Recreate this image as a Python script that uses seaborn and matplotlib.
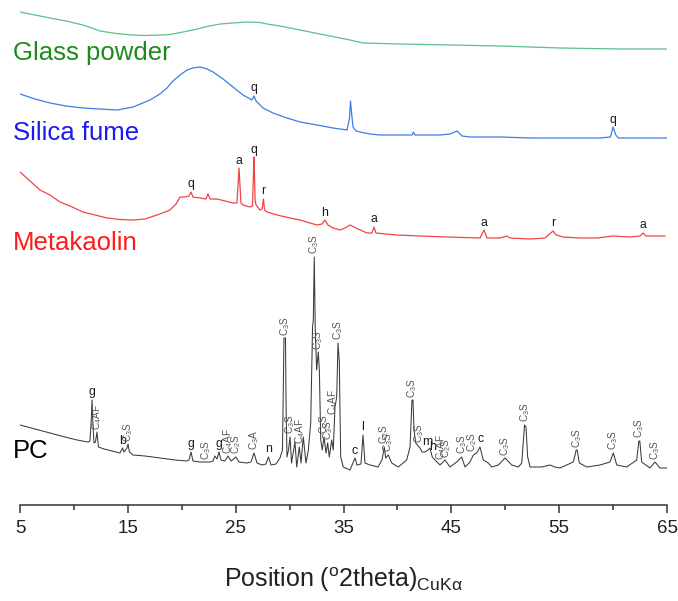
import numpy as np
import pandas as pd
import matplotlib
matplotlib.use("Agg")
import matplotlib.pyplot as plt
import seaborn as sns
from matplotlib import font_manager as fm

# ---------------- data (2theta in degrees, offset intensity in a.u.) ----------------
GP_2THETA = [5.00, 5.93, 7.78, 9.27, 10.84, 12.42, 13.90, 15.48, 16.59, 17.98, 18.91, 20.12,
             21.23, 22.34, 23.55, 24.75, 26.04, 27.26, 27.91, 29.11, 30.97, 32.82, 34.68,
             35.60, 36.81, 40.24, 44.88, 49.51, 55.08, 60.64, 65.00]
GP_INT = [493, 491, 487, 484, 480, 474, 471.5, 470, 469.5, 470, 470.5, 473,
          475.5, 478.5, 481, 482, 483, 482.5, 481, 479, 475, 471, 467,
          465, 462, 461, 460, 459, 457, 456, 456]

SF_2THETA = [5.00, 6.39, 7.78, 9.27, 10.84, 12.42, 14.00, 15.48, 17.06, 17.98,
             18.63, 19.19, 19.84, 20.49, 21.04, 21.69, 22.34, 22.90, 23.83, 24.75,
             25.68, 26.52, 26.70, 26.89, 27.54, 28.46, 29.76, 30.97, 32.54, 34.03,
             35.33, 35.56, 35.65, 35.74, 35.88, 36.16, 36.53, 37.46, 38.38, 41.35,
             41.49, 41.63, 43.95, 44.88, 45.53, 45.99, 46.73, 49.51, 52.30, 55.08,
             58.79, 59.75, 60.00, 60.25, 60.50, 62.50, 65.00]
SF_INT = [411, 406, 402, 399, 397, 396, 395, 398, 405, 411,
          417, 424, 430, 435, 437, 438, 436, 433, 426, 418,
          410, 405, 409, 404, 397, 392, 387, 383, 380, 377,
          375, 387, 404, 393, 378, 374, 373, 371, 370, 370,
          373, 370, 370, 371, 374, 369, 368, 368, 367, 367,
          367, 368, 378, 370, 367, 367, 367]

MK_2THETA = [5.00, 5.93, 6.85, 7.78, 8.71, 9.64, 10.84, 11.96, 13.07, 14.27,
             15.48, 16.59, 17.70, 18.45, 18.91, 19.47, 19.84, 20.30, 20.67, 20.86,
             21.04, 21.69, 22.25, 22.43, 22.62, 23.27, 24.02, 24.75, 25.12, 25.31,
             25.49, 25.68, 26.33, 26.56, 26.64, 26.70, 26.80, 26.89, 27.26, 27.45,
             27.57, 27.68, 27.91, 28.83, 30.04, 30.97, 31.89, 32.54, 33.01, 33.28,
             33.56, 34.03, 34.68, 35.14, 35.60, 36.16, 37.18, 37.64, 37.83, 38.01,
             38.85, 39.96, 42.09, 44.60, 47.66, 48.03, 48.31, 49.51, 50.16, 50.44,
             52.30, 53.69, 54.43, 54.71, 55.36, 56.93, 58.51, 60.00, 61.57, 62.50,
             62.78, 63.06, 64.82]
MK_INT = [333, 324, 315, 310, 303, 299, 293, 290, 287, 285.5,
          285, 286, 290, 293, 295, 301, 308, 308, 309, 313,
          308, 307, 306, 311, 306, 306, 304, 302, 302, 337,
          302, 300, 298, 299, 328, 348, 305, 300, 295, 296,
          306, 295, 293, 290, 287, 285, 282, 280, 281, 285,
          280, 277, 275, 277, 280, 277, 272, 272, 278, 272,
          271, 270, 269, 268, 267, 275, 267, 267, 269, 267,
          266, 267, 274, 270, 268, 267, 267, 269, 268, 269,
          272, 269, 269]

PC_2THETA = [5.00, 6.39, 7.78, 9.17, 10.29, 11.31, 11.49, 11.61, 11.68, 11.75,
             11.86, 12.00, 12.14, 12.28, 12.79, 13.53, 14.27, 14.51, 14.64, 14.92,
             15.02, 15.15, 15.48, 16.59, 17.98, 19.37, 20.49, 20.67, 20.86, 21.04,
             21.69, 22.62, 22.90, 23.08, 23.27, 23.45, 23.64, 24.01, 24.29, 24.57,
             25.03, 25.31, 26.05, 26.42, 26.70, 26.98, 27.44, 27.81, 28.04, 28.28,
             28.74, 29.11, 29.34, 29.48, 29.62, 29.67, 29.76, 29.90, 30.04, 30.18,
             30.50, 30.66, 30.90, 31.06, 31.27, 31.52, 31.74, 31.96, 32.13, 32.20,
             32.29, 32.38, 32.51, 32.66, 32.76, 32.89, 33.03, 33.19, 33.38, 33.53,
             33.68, 33.91, 34.05, 34.21, 34.37, 34.49, 34.61, 34.74, 34.98, 35.60,
             35.88, 36.07, 36.25, 36.62, 36.81, 36.99, 37.46, 38.20, 38.57, 38.78,
             38.91, 39.15, 39.47, 40.08, 40.86, 41.17, 41.35, 41.44, 41.54, 41.70,
             42.09, 42.28, 42.56, 42.84, 43.02, 43.23, 43.48, 43.95, 44.41, 44.88,
             45.50, 45.96, 46.27, 46.73, 47.04, 47.35, 47.66, 47.96, 48.43, 48.74,
             49.36, 49.98, 50.60, 51.21, 51.53, 51.79, 51.92, 52.08, 52.30, 53.38,
             54.15, 54.61, 55.08, 56.31, 56.58, 56.67, 56.87, 57.55, 58.79, 59.71,
             60.02, 60.34, 61.26, 62.19, 62.39, 62.48, 62.65, 63.42, 63.89, 64.35,
             65.00]
PC_INT = [80, 76, 72, 68, 65, 63, 64, 85, 105, 85,
          62, 63, 73, 58, 56, 54, 52, 57, 53, 57,
          61, 53, 50, 49, 47, 45, 44, 45, 53, 44,
          43, 43, 44, 49, 46, 53, 45, 44, 49, 44,
          48, 43, 42, 43, 52, 42, 40, 41, 48, 40,
          41, 47, 55, 167, 167, 103, 48, 55, 68, 42,
          63, 38, 58, 42, 68, 42, 55, 82, 178, 185,
          248, 175, 135, 153, 135, 65, 55, 68, 52, 62,
          48, 65, 55, 98, 108, 162, 143, 48, 38, 35,
          42, 47, 40, 41, 70, 42, 40, 38, 45, 58,
          47, 50, 42, 38, 45, 58, 105, 105, 75, 62,
          57, 53, 53, 55, 57, 48, 45, 40, 45, 38,
          43, 48, 38, 43, 50, 52, 58, 45, 42, 38,
          40, 47, 40, 38, 42, 80, 78, 48, 38, 38,
          40, 38, 37, 43, 55, 55, 42, 38, 40, 43,
          52, 40, 38, 45, 64, 64, 43, 37, 43, 37,
          37]

# phase labels: (text, 2theta)
GP_LABELS = []
SF_LABELS = [("q", 26.70), ("q", 60.00)]
MK_LABELS = [("q", 20.86), ("a", 25.31), ("q", 26.70), ("r", 27.57), ("h", 33.28),
             ("a", 37.83), ("a", 48.03), ("r", 54.43), ("a", 62.78)]
PC_LABELS = [("g", 11.68), ("C$_4$AF", 12.17), ("b", 14.52), ("C$_3$S", 14.98),
             ("g", 20.86), ("C$_3$S", 22.30), ("g", 23.45), ("C$_4$AF", 24.29),
             ("C$_2$S", 25.03), ("C$_3$A", 26.70), ("n", 28.04), ("C$_3$S", 29.55),
             ("C$_3$S", 30.04), ("C$_4$AF", 31.00), ("C$_3$S", 32.29), ("C$_3$S", 32.66),
             ("C$_2$S", 33.19), ("C$_3$S", 33.53), ("C$_4$AF", 34.05), ("C$_3$S", 34.49),
             ("c", 36.07), ("l", 36.81), ("C$_2$S", 38.78), ("C$_3$S", 39.15),
             ("C$_3$S", 41.40), ("C$_3$S", 42.05), ("m", 42.80), ("h", 43.28),
             ("C$_4$AF", 44.05), ("C$_2$S", 44.55), ("C$_3$S", 45.96), ("C$_2$S", 46.95),
             ("c", 47.70), ("C$_3$S", 49.98), ("C$_3$S", 51.85), ("C$_3$S", 56.62),
             ("C$_3$S", 60.02), ("C$_3$S", 62.43), ("C$_3$S", 63.89)]

SAMPLE_NAMES = ["Glass powder", "Silica fume", "Metakaolin", "PC"]
X_TICKS = [5, 15, 25, 35, 45, 55, 65]
X_LABEL = r"Position ($^{\mathrm{o}}$2theta)$_{\mathrm{CuKα}}$"

# ---------------- styling ----------------
sns.set_style("ticks")
names = {f.name for f in fm.fontManager.ttflist}
NARROW = "Liberation Sans Narrow" if "Liberation Sans Narrow" in names else "Liberation Sans"
plt.rcParams["font.family"] = ["Liberation Sans", "DejaVu Sans"]
plt.rcParams["mathtext.fontset"] = "custom"
plt.rcParams["mathtext.rm"] = NARROW
plt.rcParams["mathtext.it"] = NARROW + ":italic"
plt.rcParams["mathtext.bf"] = NARROW + ":bold"

fig = plt.figure(figsize=(6.78, 6.01), dpi=100)
ax = fig.add_axes([20 / 678, 96 / 601, 647 / 678, 505 / 601])

traces = [
    (GP_2THETA, GP_INT, GP_LABELS, "#5cc08a", "#1b8c1b", 445),
    (SF_2THETA, SF_INT, SF_LABELS, "#3b7fe4", "#1a1aee", 365.5),
    (MK_2THETA, MK_INT, MK_LABELS, "#f04545", "#ff1a1a", 255),
    (PC_2THETA, PC_INT, PC_LABELS, "#3a3a3a", "#000000", 47),
]

def peak_top(xs, ys, x0, w=0.12):
    xs = np.asarray(xs, float)
    ys = np.asarray(ys, float)
    grid = np.linspace(x0 - w, x0 + w, 41)
    best = np.interp(grid, xs, ys).max()
    m = (xs >= x0 - w) & (xs <= x0 + w)
    if m.any():
        best = max(best, ys[m].max())
    return best

for name, (xs, ys, labels, lc, tc, ybase) in zip(SAMPLE_NAMES, traces):
    df = pd.DataFrame({"2theta": xs, "intensity": ys})
    sns.lineplot(data=df, x="2theta", y="intensity", ax=ax, color=lc,
                 lw=0.9 if name != "PC" else 0.75, estimator=None, sort=False)
    ax.text(4.35, ybase, name, color=tc, fontsize=18.5, ha="left", va="baseline",
            family="Liberation Sans", clip_on=False)
    for txt, x0 in labels:
        top = peak_top(xs, ys, x0)
        if txt.startswith("C$"):
            ax.text(x0, top + 2.5, txt, rotation=90, ha="center", va="bottom",
                    fontsize=7.2, color="#555555", family=NARROW)
        else:
            ax.text(x0, top + 1.5, txt, ha="center", va="bottom",
                    fontsize=8.8, color="#1a1a1a", family="Liberation Sans")

ax.set_xlim(5, 65)
ax.set_ylim(0, 505)
ax.set_yticks([])
ax.set_ylabel("")
for s in ("left", "right", "top"):
    ax.spines[s].set_visible(False)
ax.spines["bottom"].set_color("#333333")
ax.spines["bottom"].set_linewidth(1.1)
ax.set_xticks(X_TICKS)
ax.set_xticks([10, 20, 30, 40, 50, 60], minor=True)
ax.set_xticklabels([str(t) for t in X_TICKS], family=NARROW, fontsize=13.5, color="#222222")
ax.tick_params(axis="x", which="major", direction="out", length=6, width=1.1,
               color="#333333", pad=5)
ax.tick_params(axis="x", which="minor", direction="out", length=3.5, width=1.1,
               color="#333333")
ax.set_xlabel(X_LABEL, family=NARROW, fontsize=18, color="#222222", labelpad=20)

fig.savefig("out.png", dpi=100)
